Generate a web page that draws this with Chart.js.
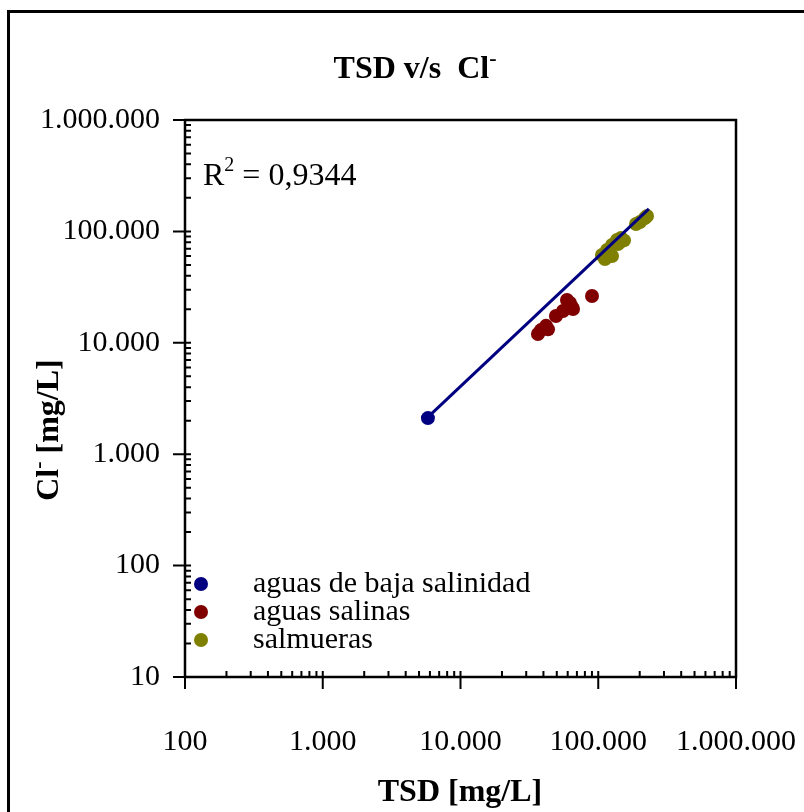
<!DOCTYPE html>
<html>
<head>
<meta charset="utf-8">
<script src="https://cdn.jsdelivr.net/npm/chart.js@4/dist/chart.umd.min.js"></script>
<style>
  body { margin: 0; background: #fff; }
  canvas { display: block; }
</style>
</head>
<body>
<canvas id="grafico" width="804" height="812"></canvas>
<script>
// datos (TSD vs Cl-, mg/L)
const bajaX = [5800];
const bajaY = [2110];

const salinasX = [36500, 38400, 41800, 43200, 49300, 55500, 59300, 62400, 64500, 65600, 90100];
const salinasY = [12000, 13000, 14200, 13200, 17400, 19300, 24200, 22800, 20900, 20100, 26300];

const salmuerasX = [106400, 111900, 115800, 125900, 136800, 146300, 125900, 139100, 153800, 188000, 201000, 218400, 225900];
const salmuerasY = [61400, 56500, 68100, 75500, 83700, 87300, 60100, 77100, 83000, 116500, 121400, 131900, 137500];

// linea de tendencia (extremos)
const tendX = [5800, 233000];
const tendY = [2150, 159000];

const xTicks = [100, 1000, 10000, 100000, 1000000];
const xTickLabels = ['100', '1.000', '10.000', '100.000', '1.000.000'];
const yTicks = [10, 100, 1000, 10000, 100000, 1000000];
const yTickLabels = ['10', '100', '1.000', '10.000', '100.000', '1.000.000'];

const series = ['aguas de baja salinidad', 'aguas salinas', 'salmueras'];
const colores = ['#000080', '#800000', '#808000'];

const serif = "'Liberation Serif', 'Times New Roman', serif";

const pares = (xs, ys) => xs.map((x, i) => ({ x: x, y: ys[i] }));

// dibuja trozos de texto seguidos; cada trozo: [texto, fuente, desplazamiento vertical]
const trozos = (ctx, partes, x, y, centrado) => {
  ctx.textAlign = 'left';
  ctx.textBaseline = 'alphabetic';
  const anchos = partes.map((p) => { ctx.font = p[1]; return ctx.measureText(p[0]).width; });
  const total = anchos.reduce((s, w) => s + w, 0);
  let x0 = centrado ? x - total / 2 : x;
  partes.forEach((p, i) => {
    ctx.font = p[1];
    ctx.fillText(p[0], x0, y + p[2]);
    x0 += anchos[i];
  });
};

const decoracion = {
  id: 'decoracion',
  afterDraw(chart) {
    const ctx = chart.ctx;
    const a = chart.chartArea;
    const sx = chart.scales.x;
    const sy = chart.scales.y;
    ctx.save();
    ctx.strokeStyle = '#000';
    ctx.fillStyle = '#000';

    // marco exterior
    ctx.lineWidth = 3;
    ctx.strokeRect(8.5, 11.5, 830, 830);

    // marco del area de trazado
    ctx.lineWidth = 2.5;
    ctx.strokeRect(a.left, a.top, a.right - a.left, a.bottom - a.top);

    // marcas de los ejes
    ctx.lineWidth = 2;
    ctx.beginPath();
    xTicks.forEach((v, i) => {
      const px = sx.getPixelForValue(v);
      ctx.moveTo(px, a.bottom - 6);
      ctx.lineTo(px, a.bottom + 12);
      if (i < xTicks.length - 1) {
        for (let k = 2; k <= 9; k++) {
          const m = sx.getPixelForValue(v * k);
          ctx.moveTo(m, a.bottom);
          ctx.lineTo(m, a.bottom - 6);
        }
      }
    });
    yTicks.forEach((v, i) => {
      const py = sy.getPixelForValue(v);
      ctx.moveTo(a.left - 12, py);
      ctx.lineTo(a.left + 6, py);
      if (i < yTicks.length - 1) {
        for (let k = 2; k <= 9; k++) {
          const m = sy.getPixelForValue(v * k);
          ctx.moveTo(a.left, m);
          ctx.lineTo(a.left + 6, m);
        }
      }
    });
    ctx.stroke();

    const negrita = 'bold 32px ' + serif;
    const negritaSup = 'bold 22px ' + serif;

    // titulo
    trozos(ctx, [['TSD v/s  Cl', negrita, 0], ['-', negritaSup, -13]], 415, 78, true);

    // titulo eje x
    trozos(ctx, [['TSD [mg/L]', negrita, 0]], 460, 801, true);

    // titulo eje y
    ctx.save();
    ctx.translate(58, 430);
    ctx.rotate(-Math.PI / 2);
    trozos(ctx, [['Cl', negrita, 0], ['-', negritaSup, -13], [' [mg/L]', negrita, 0]], 0, 0, true);
    ctx.restore();

    // R2
    trozos(ctx, [['R', '32px ' + serif, 0], ['2', '20px ' + serif, -14], [' = 0,9344', '32px ' + serif, 0]], 203, 185, false);

    // leyenda
    series.forEach((s, i) => {
      const y = 584 + i * 28;
      ctx.fillStyle = colores[i];
      ctx.beginPath();
      ctx.arc(201, y, 7, 0, Math.PI * 2);
      ctx.fill();
      ctx.fillStyle = '#000';
      ctx.font = '30px ' + serif;
      ctx.textAlign = 'left';
      ctx.textBaseline = 'middle';
      ctx.fillText(s, 253, y);
    });
    ctx.restore();
  }
};

const canvas = document.getElementById('grafico');
const chart = new Chart(canvas, {
  type: 'scatter',
  data: {
    datasets: [
      {
        type: 'line',
        label: 'tendencia',
        data: pares(tendX, tendY),
        borderColor: '#000080',
        borderWidth: 3,
        pointRadius: 0,
        fill: false,
        tension: 0,
      },
      {
        label: series[0],
        data: pares(bajaX, bajaY),
        backgroundColor: colores[0],
        borderWidth: 0,
        pointRadius: 7,
      },
      {
        label: series[1],
        data: pares(salinasX, salinasY),
        backgroundColor: colores[1],
        borderWidth: 0,
        pointRadius: 7,
      },
      {
        label: series[2],
        data: pares(salmuerasX, salmuerasY),
        backgroundColor: colores[2],
        borderWidth: 0,
        pointRadius: 7,
      },
    ],
  },
  options: {
    responsive: false,
    animation: false,
    events: [],
    layout: { padding: { left: 0, top: 120, right: 68, bottom: 0 } },
    plugins: {
      legend: { display: false },
      title: { display: false },
      tooltip: { enabled: false },
    },
    scales: {
      x: {
        type: 'logarithmic',
        min: 100,
        max: 1000000,
        grid: { display: false, drawTicks: false },
        border: { display: false },
        afterBuildTicks: (s) => { s.ticks = xTicks.map((v) => ({ value: v })); },
        afterFit: (s) => { s.height = 135; s.paddingLeft = 0; s.paddingRight = 0; },
        ticks: {
          autoSkip: false,
          maxRotation: 0,
          padding: 47,
          color: '#000',
          font: { family: serif, size: 30 },
          callback: (v) => xTickLabels[xTicks.indexOf(v)],
        },
      },
      y: {
        type: 'logarithmic',
        min: 10,
        max: 1000000,
        grid: { display: false, drawTicks: false },
        border: { display: false },
        afterBuildTicks: (s) => { s.ticks = yTicks.map((v) => ({ value: v })); },
        afterFit: (s) => { s.width = 185; s.paddingTop = 0; s.paddingBottom = 0; },
        ticks: {
          autoSkip: false,
          padding: 25,
          color: '#000',
          font: { family: serif, size: 30 },
          callback: (v) => yTickLabels[yTicks.indexOf(v)],
        },
      },
    },
  },
  plugins: [decoracion],
});
</script>
</body>
</html>
